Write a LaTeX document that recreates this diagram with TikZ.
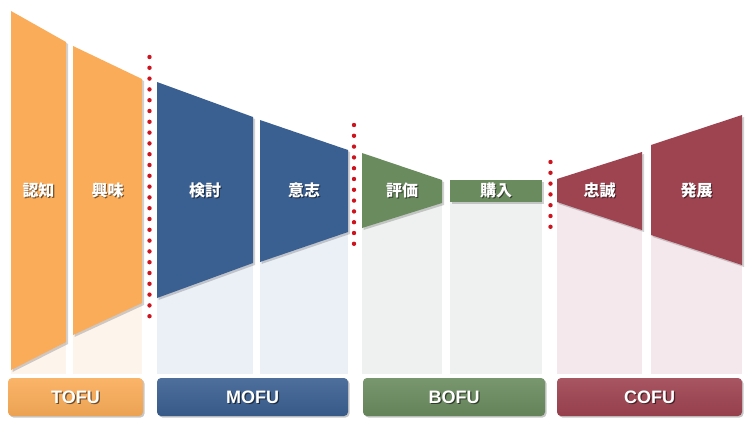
\documentclass[tikz,border=0pt]{standalone}
\usepackage{fontspec}
\setmainfont{Liberation Sans}
\newfontfamily\jpfont{Noto Sans CJK JP}
\begin{document}
\begin{tikzpicture}[x=1pt,y=-1pt,
  shapeshadow/.style={fill=black,opacity=0.18},
  jptext/.style={text=white,font=\jpfont\bfseries\fontsize{16}{16}\selectfont,inner sep=0pt},
  jpshadow/.style={text=black,opacity=0.55,font=\jpfont\bfseries\fontsize{16}{16}\selectfont,inner sep=0pt},
  tagbox/.style={rounded corners=4pt},
  tagtext/.style={text=white,font=\bfseries\fontsize{18}{18}\selectfont,inner sep=0pt},
  tagshadow/.style={text=black,opacity=0.55,font=\bfseries\fontsize{18}{18}\selectfont,inner sep=0pt},
  reddot/.style={fill=dotred}
]
\definecolor{cor}{RGB}{250,172,88}
\definecolor{corl}{RGB}{253,244,236}
\definecolor{cbl}{RGB}{58,95,145}
\definecolor{cbll}{RGB}{235,240,247}
\definecolor{cgr}{RGB}{106,139,94}
\definecolor{cgrl}{RGB}{238,241,240}
\definecolor{cre}{RGB}{158,67,80}
\definecolor{crel}{RGB}{244,232,236}
\definecolor{dotred}{RGB}{205,20,30}
\useasboundingbox (0,0) rectangle (750,429);
\fill[white] (0,0) rectangle (750,429);

% light columns
\fill[corl] (11,330) rectangle (66,374);
\fill[corl] (73,300) rectangle (142,374);
\fill[cbll] (157,260) rectangle (253,374);
\fill[cbll] (260,230) rectangle (348,374);
\fill[cgrl] (362,200) rectangle (442,374);
\fill[cgrl] (450,200) rectangle (542,374);
\fill[crel] (557,200) rectangle (642,374);
\fill[crel] (651,230) rectangle (742,374);

% shape shadows
\fill[shapeshadow] (12.5,13) -- (68,44) -- (68,344) -- (12.5,372) -- cycle;
\fill[shapeshadow] (74.5,48) -- (144,81) -- (144,305) -- (74.5,337) -- cycle;
\fill[shapeshadow] (158.5,84) -- (255,119) -- (255,265) -- (158.5,300) -- cycle;
\fill[shapeshadow] (261.5,122) -- (350,152) -- (350,234) -- (261.5,264) -- cycle;
\fill[shapeshadow] (363.5,155) -- (444,182) -- (444,205) -- (363.5,230) -- cycle;
\fill[shapeshadow] (451.5,182) rectangle (544,204);
\fill[shapeshadow] (558.5,181) -- (644,154) -- (644,232) -- (558.5,204) -- cycle;
\fill[shapeshadow] (652.5,147) -- (744,117) -- (744,267) -- (652.5,237) -- cycle;

% funnel shapes
\fill[cor] (11,11) -- (66,42) -- (66,342) -- (11,370) -- cycle;
\fill[cor] (73,46) -- (142,79) -- (142,303) -- (73,335) -- cycle;
\fill[cbl] (157,82) -- (253,117) -- (253,263) -- (157,298) -- cycle;
\fill[cbl] (260,120) -- (348,150) -- (348,232) -- (260,262) -- cycle;
\fill[cgr] (362,153) -- (442,180) -- (442,203) -- (362,228) -- cycle;
\fill[cgr] (450,180) rectangle (542,202);
\fill[cre] (557,179) -- (642,152) -- (642,230) -- (557,202) -- cycle;
\fill[cre] (651,145) -- (742,115) -- (742,265) -- (651,235) -- cycle;

% dotted separators
\foreach \i in {0,...,24} \fill[reddot] (149.5,{57+\i*10.8}) circle (2.2);
\foreach \i in {0,...,11} \fill[reddot] (354,{125+\i*10.8}) circle (2.2);
\foreach \i in {0,...,6} \fill[reddot] (550.5,{162+\i*10.8}) circle (2.2);

% stage labels
\foreach \nm/\x/\t in {a/38.5/認知, b/107.5/興味, c/205/検討, d/304/意志, e/402/評価, f/496/購入, g/599.5/忠誠, h/696.5/発展}{
  \node[jpshadow] at (\x+1.2,191.5) {\t};
  \node[jptext] (\nm) at (\x,190) {\t};
}

% bottom tags
\foreach \nm/\xa/\xb/\c/\t in {tofu/8/143/cor/TOFU, mofu/157/348/cbl/MOFU, bofu/363/545/cgr/BOFU, cofu/557/742/cre/COFU}{
  \fill[black,opacity=0.22,tagbox] (\xa+1.5,379.5) rectangle (\xb+1.5,417.5);
  \shade[tagbox,top color=\c!90!white,bottom color=\c!94!black] (\xa,378) rectangle (\xb,416);
  \node[tagshadow] at ({(\xa+\xb)/2+1.3},398.3) {\t};
  \node[tagtext] (\nm) at ({(\xa+\xb)/2},397) {\t};
}
\end{tikzpicture}
\end{document}
